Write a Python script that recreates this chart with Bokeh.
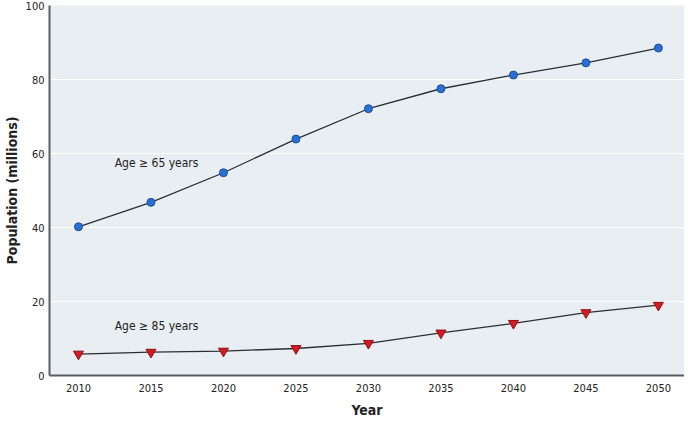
from bokeh.plotting import figure
from bokeh.models import Range1d, FixedTicker, ColumnDataSource, Label
from bokeh.embed import file_html
from bokeh.resources import INLINE

years = [2010, 2015, 2020, 2025, 2030, 2035, 2040, 2045, 2050]
age65 = [40.2, 46.8, 54.8, 63.9, 72.1, 77.5, 81.2, 84.5, 88.5]
age85 = [5.8, 6.3, 6.6, 7.3, 8.7, 11.5, 14.1, 17.0, 19.0]
y_ticks = [0, 20, 40, 60, 80, 100]
label65 = "Age \u2265 65 years"
label85 = "Age \u2265 85 years"

FONT = "DejaVu Sans Condensed, Roboto"

p = figure(width=684, height=420, output_backend="svg", toolbar_location=None,
           x_range=Range1d(2008.0, 2051.8), y_range=Range1d(0, 100),
           min_border_left=45, min_border_right=0, min_border_top=5, min_border_bottom=44)
p.background_fill_color = "#e9eef3"
p.border_fill_color = "white"
p.outline_line_color = None

p.xaxis.ticker = FixedTicker(ticks=years)
p.yaxis.ticker = FixedTicker(ticks=y_ticks)
for ax in (p.xaxis[0], p.yaxis[0]):
    ax.major_tick_line_color = None
    ax.minor_tick_line_color = None
    ax.major_tick_out = 0
    ax.major_tick_in = 0
    ax.minor_tick_out = 0
    ax.minor_tick_in = 0
    ax.axis_line_color = "#5a5d61"
    ax.axis_line_width = 2
    ax.major_label_text_font = FONT
    ax.major_label_text_font_size = "11px"
    ax.major_label_text_color = "#222222"
    ax.axis_label_text_font = FONT
    ax.axis_label_text_font_style = "bold"
    ax.axis_label_text_font_size = "14px"
    ax.axis_label_text_color = "#222222"
p.xaxis.axis_label = "Year"
p.yaxis.axis_label = "Population (millions)"
p.xaxis.major_label_standoff = 8
p.yaxis.major_label_standoff = 5
p.xaxis.axis_label_standoff = 7
p.yaxis.axis_label_standoff = 3

p.xgrid.grid_line_color = None
p.ygrid.grid_line_color = "white"
p.ygrid.grid_line_width = 1

src = ColumnDataSource(dict(year=years, a65=age65, a85=age85))
p.line("year", "a65", source=src, line_color="#2b2f33", line_width=1.3)
p.scatter("year", "a65", source=src, marker="circle", size=8,
          fill_color="#2a6fd6", line_color="#1b4f9a", line_width=1)
p.line("year", "a85", source=src, line_color="#2b2f33", line_width=1.3)
p.scatter("year", "a85", source=src, marker="inverted_triangle", size=10,
          fill_color="#d61a23", line_color="#8a1016", line_width=1)

p.add_layout(Label(x=2012.5, y=57.5, text=label65, text_font=FONT, text_font_size="12px",
                   text_color="#222222", text_baseline="middle"))
p.add_layout(Label(x=2012.5, y=13.3, text=label85, text_font=FONT, text_font_size="12px",
                   text_color="#222222", text_baseline="middle"))

open("out.html", "w").write(file_html(p, INLINE))
